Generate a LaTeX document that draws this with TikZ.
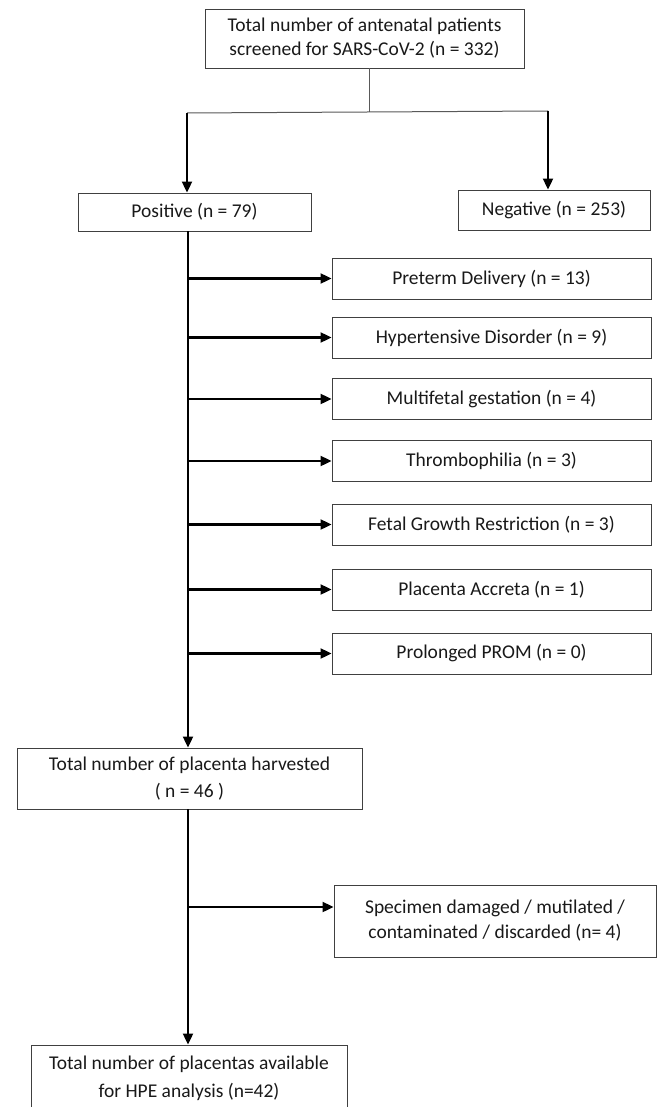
\documentclass[tikz,border=0pt]{standalone}
\usepackage{fontspec}
\setmainfont{Carlito}
\usetikzlibrary{arrows.meta}
\begin{document}
\begin{tikzpicture}[x=1pt,y=-1pt,
  box/.style={draw=black!75, line width=0.9pt, inner sep=0pt, align=center,
    font=\fontsize{19.5}{26}\selectfont, text=black!90},
  sidebox/.style={box, minimum width=319pt, minimum height=41pt},
  arr/.style={line width=2.1pt, -{Triangle[length=11pt,width=10pt]}},
  thinline/.style={draw=black!65, line width=1pt}]
\clip (0,0) rectangle (657,1107);
\useasboundingbox (0,0) rectangle (657,1107);
\fill[white] (0,0) rectangle (657,1107);
% boxes
\node[box, minimum width=319pt, minimum height=59pt, font=\fontsize{19.5}{24}\selectfont] (top) at (364.5,38.5)
  {Total number of antenatal patients\\screened for SARS-CoV-2 (n = 332)};
\node[box, minimum width=233pt, minimum height=38pt] (pos) at (194.5,212) {Positive (n = 79)};
\node[box, minimum width=192pt, minimum height=40pt] (neg) at (554,210) {Negative (n = 253)};
\node[sidebox] (s1) at (491.5,278.5) {Preterm Delivery (n = 13)};
\node[sidebox] (s2) at (491.5,337.5) {Hypertensive Disorder (n = 9)};
\node[sidebox] (s3) at (491.5,399) {Multifetal gestation (n = 4)};
\node[sidebox] (s4) at (491.5,461) {Thrombophilia (n = 3)};
\node[sidebox] (s5) at (491.5,524.5) {Fetal Growth Restriction (n = 3)};
\node[sidebox] (s6) at (491.5,589.5) {Placenta Accreta (n = 1)};
\node[sidebox] (s7) at (491.5,653.5) {Prolonged PROM (n = 0)};
\node[box, minimum width=345pt, minimum height=61pt, font=\fontsize{19.5}{27}\selectfont] (harv) at (189.5,778.5)
  {Total number of placenta harvested\\( n = 46 )};
\node[box, minimum width=322pt, minimum height=72pt, font=\fontsize{19.5}{25}\selectfont] (spec) at (495,921)
  {Specimen damaged / mutilated /\\contaminated / discarded (n= 4)};
\node[box, minimum width=316pt, minimum height=66pt, font=\fontsize{19.5}{28}\selectfont] (fin) at (189,1078)
  {Total number of placentas available\\for HPE analysis (n=42)};
% connectors
\coordinate (stem) at (369,112);
\coordinate (jl) at (187,113);
\coordinate (jr) at (548,111);
\coordinate (m) at (188,231);
\coordinate (sa) at (188,907);
\draw[thinline] (top.south -| stem) -- (stem);
\draw[thinline] (jl) -- (jr);
\draw[arr] (jl) -- (jl |- pos.north);
\draw[arr] (jr) -- (jr |- neg.north);
\draw[arr] (pos.south -| m) -- (harv.north -| m);
\foreach \s in {s1,s2,s3,s4,s5,s6,s7}
  \draw[arr] (\s.west -| m) -- (\s.west);
\draw[arr] (harv.south -| m) -- (fin.north -| m);
\draw[arr] (sa) -- (sa -| spec.west);
\end{tikzpicture}
\end{document}
